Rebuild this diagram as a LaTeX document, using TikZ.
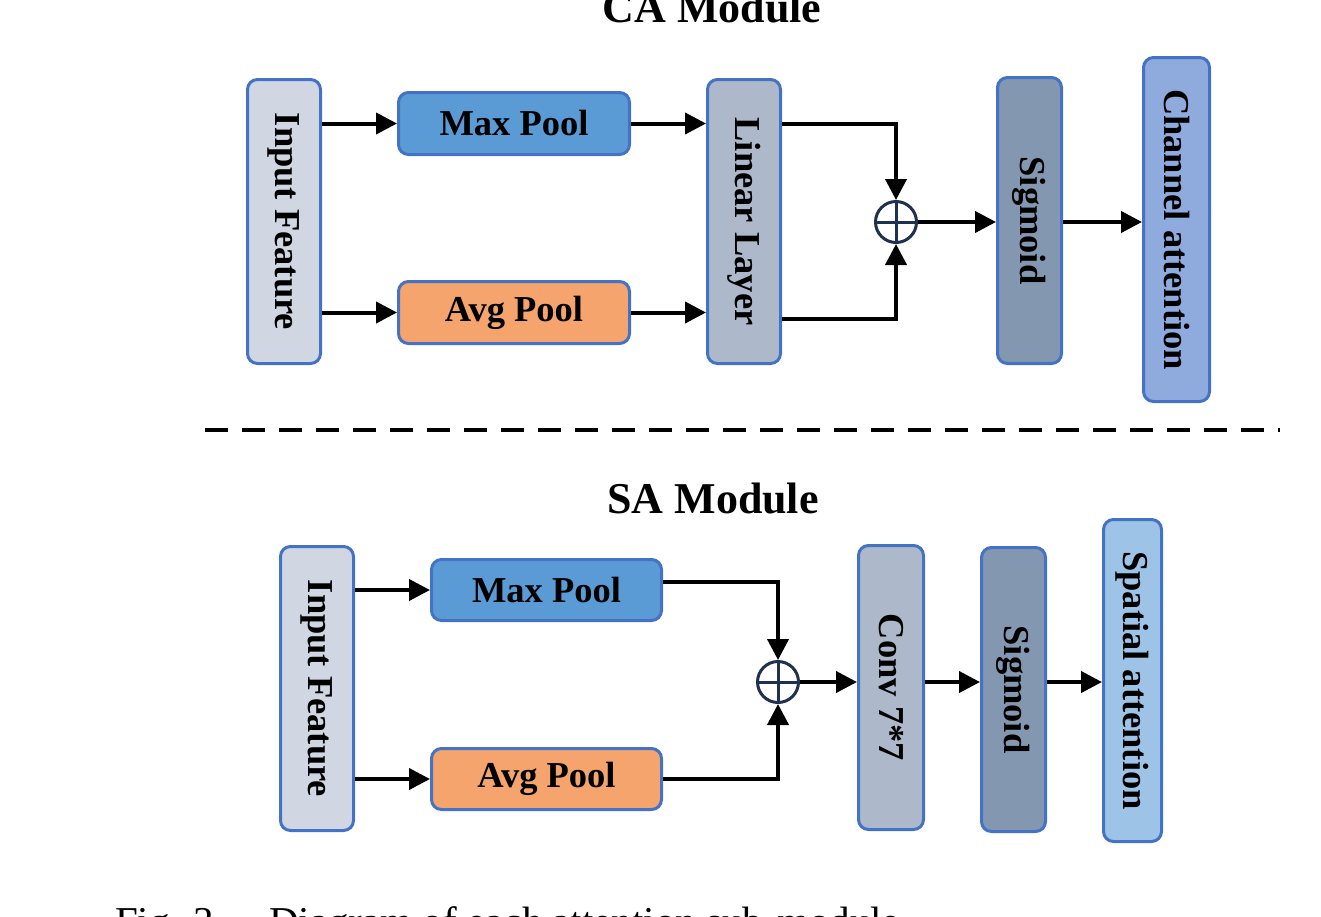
\documentclass[tikz,border=0pt]{standalone}
\usepackage{fontspec}
\setmainfont{Liberation Serif}
\usetikzlibrary{arrows.meta}
\definecolor{bord}{HTML}{4472C4}
\definecolor{cin}{HTML}{D0D7E3}
\definecolor{cmax}{HTML}{5B9BD5}
\definecolor{cavg}{HTML}{F4A46C}
\definecolor{clin}{HTML}{ADB9CA}
\definecolor{csig}{HTML}{8497B0}
\definecolor{cch}{HTML}{8FAADC}
\definecolor{csp}{HTML}{9DC3E6}
\definecolor{navy}{HTML}{1F3050}
\begin{document}
\begin{tikzpicture}[x=1pt,y=-1pt,
  blk/.style={draw=bord, line width=3pt, rounded corners=10pt, inner sep=0pt,
    font=\fontsize{36.5}{40}\selectfont\bfseries},
  vlbl/.style={font=\fontsize{36.5}{40}\selectfont\bfseries, inner sep=0pt, rotate=-90},
  arr/.style={line width=4pt, -{Triangle[length=21pt,width=21pt]}},
  addop/.style={circle, draw=navy, line width=3pt, minimum size=41pt, inner sep=0pt,
    path picture={\draw[navy, line width=3pt]
      (path picture bounding box.north) -- (path picture bounding box.south)
      (path picture bounding box.west) -- (path picture bounding box.east);}},
  ttl/.style={anchor=base, inner sep=0pt, font=\fontsize{44}{48}\selectfont\bfseries}]
\useasboundingbox (0,0) rectangle (1321,916);
\clip (0,0) rectangle (1321,916);

% ---------- CA module ----------
\node[ttl] (tA) at (712,22) {CA Module};
\node[blk, fill=cin, minimum width=73pt, minimum height=284pt] (inA) at (284,221.5) {};
\node[vlbl] at (inA) {Input Feature};
\node[blk, fill=cmax, minimum width=231pt, minimum height=62pt] (maxA) at (514,123.5) {Max Pool};
\node[blk, fill=cavg, minimum width=231pt, minimum height=62pt] (avgA) at (514,312.5) {Avg Pool};
\node[blk, fill=clin, minimum width=73pt, minimum height=284pt] (linA) at (744,221.5) {};
\node[vlbl] at (linA) {Linear Layer};
\node[addop] (plusA) at (896,222) {};
\node[blk, fill=csig, minimum width=64pt, minimum height=286pt] (sigA) at (1029.5,220.5) {};
\node[vlbl] at (sigA) {Sigmoid};
\node[blk, fill=cch, minimum width=66pt, minimum height=344pt] (chA) at (1176.5,229.5) {};
\node[vlbl] at (chA) {Channel attention};

\draw[arr] (inA.east |- maxA) -- (maxA.west);
\draw[arr] (inA.east |- avgA) -- (avgA.west);
\draw[arr] (maxA.east) -- (maxA.east -| linA.west);
\draw[arr] (avgA.east) -- (avgA.east -| linA.west);
\draw[arr] (linA.east |- maxA) -| (plusA.north);
\draw[arr] (linA.east |- 0,319) -| (plusA.south);
\draw[arr] (plusA.east) -- (plusA.east -| sigA.west);
\draw[arr] (sigA.east |- plusA) -- (sigA.east |- plusA -| chA.west);

% ---------- separator ----------
\coordinate (dl) at (205,430);
\coordinate (dr) at (1280,430);
\draw[line width=4pt, dash pattern=on 23pt off 14pt] (dl) -- (dr);

% ---------- SA module ----------
\node[ttl] (tB) at (713,513) {SA Module};
\node[blk, fill=cin, minimum width=73pt, minimum height=284pt] (inB) at (317,688.5) {};
\node[vlbl] at (inB) {Input Feature};
\node[blk, fill=cmax, minimum width=230pt, minimum height=61pt] (maxB) at (546.5,590) {Max Pool};
\node[blk, fill=cavg, minimum width=230pt, minimum height=61pt] (avgB) at (546.5,779) {Avg Pool};
\node[addop] (plusB) at (778,682) {};
\node[blk, fill=clin, minimum width=65pt, minimum height=284pt] (convB) at (891,687.5) {};
\node[vlbl] at (convB) {Conv 7*7};
\node[blk, fill=csig, minimum width=64pt, minimum height=284pt] (sigB) at (1013.5,689.5) {};
\node[vlbl] at (sigB) {Sigmoid};
\node[blk, fill=csp, minimum width=58pt, minimum height=322pt] (spB) at (1132.5,680.5) {};
\node[vlbl] at (spB) {Spatial attention};

\draw[arr] (inB.east |- maxB) -- (maxB.west);
\draw[arr] (inB.east |- avgB) -- (avgB.west);
\draw[arr] (maxB.east |- 0,582) -| (plusB.north);
\draw[arr] (avgB.east) -| (plusB.south);
\draw[arr] (plusB.east) -- (plusB.east -| convB.west);
\draw[arr] (convB.east |- plusB) -- (plusB -| sigB.west);
\draw[arr] (sigB.east |- plusB) -- (plusB -| spB.west);

% ---------- caption (cut by the frame) ----------
\node[anchor=base west, inner sep=0pt, font=\fontsize{41}{45}\selectfont] (cap) at (115,935)
  {Fig. 3\hspace{55pt}Diagram of each attention sub-module};
\end{tikzpicture}
\end{document}
